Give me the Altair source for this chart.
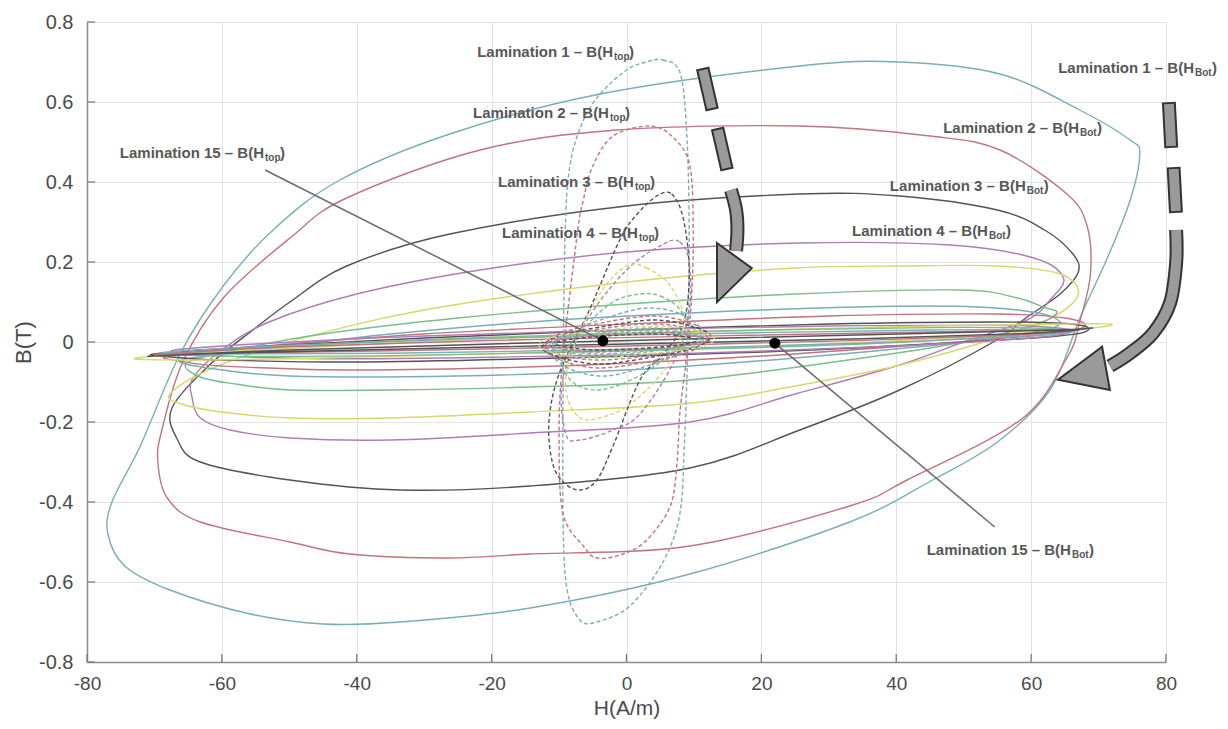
import altair as alt
import pandas as pd

FONT = "Liberation Sans"

X_TICKS = [-80, -60, -40, -20, 0, 20, 40, 60, 80]
Y_TICKS = [-0.8, -0.6, -0.4, -0.2, 0, 0.2, 0.4, 0.6, 0.8]

LAMS = ["Lamination %d" % i for i in range(1, 16)]
LAM_COLORS = ["#79adb8", "#c0747d", "#525257", "#b07cb4", "#d9d66c", "#7bbd8b",
              "#79adb8", "#c0747d", "#525257", "#b07cb4", "#d9d66c", "#7bbd8b",
              "#79adb8", "#c0747d", "#525257"]

# ---------------- B(H_bot) loops (solid) ----------------
BOT_H = {
    1: [-76.9, -76.3, -72.1, -66.2, -59.8, -52.4, -42.5, -26.2, -3.9, 25.7, 40.5, 55.4, 67.2, 74.7, 76.1,
        74.7, 71.3, 67.3, 62.8, 55.0, 45.4, 33.1, 9.4, -14.3, -33.6, -45.0, -55.8, -67.7, -74.4],
    2: [-69.5, -68.9, -65.8, -59.8, -49.9, -41.5, -21.7, -1.4, 25.7, 45.0, 55.4, 65.3, 68.3, 68.8, 67.2,
        65.3, 58.4, 41.6, 33.1, 9.4, -14.3, -26.2, -41.0, -49.9, -63.2, -68.1],
    3: [-67.4, -62.0, -55.4, -49.9, -41.5, -26.2, 0.0, 25.7, 40.5, 55.0, 62.0, 66.2, 67.0, 64.3, 59.4,
        54.4, 40.5, 25.7, 9.4, -14.3, -33.6, -49.9, -63.2, -66.7],
    4: [-64.3, -60.0, -53.0, -40.0, -21.7, 0.0, 25.7, 48.0, 60.4, 64.8, 62.8, 59.4, 50.0, 40.0, 25.0,
        9.4, -14.3, -35.0, -49.9, -58.8, -63.2, -64.4],
    5: [-67.7, -62.0, -50.0, -30.0, 0.0, 25.0, 40.5, 55.0, 64.3, 67.0, 63.0, 55.0, 40.0, 25.0, 9.4,
        -14.3, -35.0, -49.9, -60.0, -66.0],
    6: [-65.2, -58.0, -45.0, -25.0, 0.0, 25.0, 49.5, 58.0, 61.8, 63.8, 60.0, 50.0, 35.0, 9.4, -14.3,
        -35.0, -49.9, -58.0, -63.2],
    7: [-66.0, -55.0, -35.0, -10.0, 20.0, 45.0, 58.0, 64.0, 62.0, 50.0, 25.0, 0.0, -25.0, -50.0, -62.0],
    8: [-68.0, -55.0, -30.0, 0.0, 30.0, 55.0, 65.0, 68.0, 63.0, 45.0, 20.0, -10.0, -40.0, -60.0, -66.0],
    9: [-70.0, -55.0, -30.0, 0.0, 30.0, 55.0, 66.0, 68.5, 64.0, 45.0, 20.0, -10.0, -40.0, -60.0, -67.0],
    10: [-67.0, -55.0, -30.0, 0.0, 30.0, 55.0, 64.0, 66.0, 60.0, 40.0, 10.0, -20.0, -45.0, -60.0, -65.0],
    11: [-72.6, -55.0, -25.0, 10.0, 45.0, 65.0, 72.0, 62.0, 30.0, -10.0, -45.0, -65.0],
    12: [-66.0, -50.0, -20.0, 15.0, 45.0, 60.0, 64.0, 58.0, 35.0, 0.0, -35.0, -58.0, -64.0],
    13: [-68.0, -50.0, -20.0, 15.0, 45.0, 62.0, 66.0, 58.0, 35.0, 0.0, -35.0, -58.0, -65.0],
    14: [-69.0, -50.0, -20.0, 15.0, 45.0, 63.0, 67.0, 58.0, 35.0, 0.0, -35.0, -58.0, -66.0],
    15: [-70.0, -50.0, -20.0, 15.0, 45.0, 64.0, 69.0, 60.0, 35.0, 0.0, -35.0, -60.0, -67.0],
}
BOT_B = {
    1: [-0.48, -0.40, -0.26, -0.03, 0.14, 0.28, 0.405, 0.52, 0.62, 0.69, 0.70, 0.67, 0.58, 0.505, 0.47,
        0.355, 0.21, 0.0625, -0.12, -0.25, -0.345, -0.45, -0.58, -0.665, -0.70, -0.705, -0.68, -0.62, -0.56],
    2: [-0.30, -0.22, -0.05, 0.11, 0.26, 0.36, 0.48, 0.53, 0.54, 0.515, 0.48, 0.37, 0.29, 0.17, 0.05,
        -0.04, -0.195, -0.345, -0.41, -0.51, -0.53, -0.54, -0.53, -0.50, -0.45, -0.39],
    3: [-0.165, -0.06, 0.03, 0.10, 0.19, 0.27, 0.34, 0.37, 0.365, 0.33, 0.28, 0.22, 0.175, 0.12, 0.0625,
        0.0, -0.12, -0.22, -0.315, -0.36, -0.37, -0.345, -0.30, -0.24],
    4: [-0.09, -0.02, 0.05, 0.12, 0.18, 0.225, 0.2475, 0.2425, 0.21, 0.16, 0.105, 0.055, 0.0, -0.06, -0.13,
        -0.20, -0.2275, -0.245, -0.24, -0.22, -0.19, -0.14],
    5: [-0.13, -0.07, 0.0, 0.08, 0.15, 0.185, 0.19, 0.19, 0.17, 0.12, 0.06, 0.01, -0.06, -0.11, -0.153,
        -0.175, -0.19, -0.19, -0.175, -0.155],
    6: [-0.0525, -0.02, 0.02, 0.06, 0.095, 0.12, 0.13, 0.11, 0.0875, 0.0725, 0.04, 0.0, -0.04, -0.095, -0.1125,
        -0.12, -0.12, -0.105, -0.0875],
    7: [-0.045, -0.02, 0.02, 0.055, 0.08, 0.09, 0.08, 0.055, 0.03, 0.0, -0.04, -0.07, -0.085, -0.085, -0.065],
    8: [-0.035, -0.012, 0.02, 0.045, 0.065, 0.07, 0.06, 0.04, 0.02, -0.005, -0.035, -0.06, -0.07, -0.06, -0.048],
    9: [-0.03, -0.012, 0.01, 0.03, 0.045, 0.05, 0.045, 0.03, 0.015, -0.005, -0.025, -0.04, -0.05, -0.045, -0.038],
    10: [-0.02, -0.005, 0.015, 0.03, 0.04, 0.042, 0.035, 0.025, 0.01, -0.01, -0.028, -0.038, -0.042, -0.035, -0.028],
    11: [-0.04, -0.02, 0.005, 0.025, 0.04, 0.045, 0.043, 0.025, -0.005, -0.025, -0.04, -0.045],
    12: [-0.03, -0.01, 0.012, 0.028, 0.036, 0.035, 0.03, 0.018, -0.005, -0.022, -0.034, -0.036, -0.033],
    13: [-0.025, -0.008, 0.01, 0.022, 0.03, 0.03, 0.025, 0.014, -0.003, -0.018, -0.028, -0.03, -0.028],
    14: [-0.03, -0.012, 0.004, 0.016, 0.025, 0.03, 0.03, 0.018, 0.004, -0.01, -0.022, -0.028, -0.03],
    15: [-0.035, -0.02, -0.005, 0.01, 0.022, 0.03, 0.035, 0.022, 0.008, -0.005, -0.018, -0.028, -0.033],
}

# ---------------- B(H_top) loops (dashed) ----------------
TOP_H = {
    1: [3.0, 5.4, 8.0, 9.0, 9.3, 9.1, 8.6, 7.9, 5.4, 0.5, -4.4, -6.9, -8.8, -9.4, -9.4, -9.1, -8.4, -6.5, -3.9, 0.0],
    2: [3.5, 7.0, 9.4, 9.9, 9.6, 8.8, 7.9, 7.5, 6.5, 3.0, -0.5, -4.4, -6.4, -9.4, -10.0, -9.5, -7.3, -6.4, -5.0, -2.0],
    3: [4.5, 6.7, 8.4, 9.3, 8.5, 5.5, 2.0, -2.0, -4.4, -6.9, -9.4, -11.0, -11.5, -10.0, -5.5, -1.0, 1.6],
    4: [5.5, 7.9, 9.3, 9.3, 7.0, 2.0, -2.0, -6.9, -9.0, -9.5, -6.0, 0.0],
    5: [0.0, 3.0, 6.5, 8.5, 6.0, 1.0, -3.0, -6.9, -9.0, -8.0, -4.0],
    6: [2.0, 5.0, 8.0, 9.0, 5.0, 0.0, -4.4, -8.0, -9.5, -6.0, -2.0],
    7: [3.0, 8.0, 11.0, 9.0, 3.0, -3.0, -8.0, -11.0, -9.0, -3.0],
    8: [4.0, 9.0, 12.0, 10.0, 3.0, -4.0, -9.0, -12.0, -10.0, -3.0],
    9: [4.0, 9.5, 12.5, 10.0, 3.0, -4.0, -9.5, -12.5, -10.0, -3.0],
    10: [4.0, 9.0, 12.0, 10.0, 3.0, -4.0, -9.0, -12.0, -10.0, -3.0],
    11: [5.0, 10.0, 13.0, 11.0, 3.0, -5.0, -10.0, -13.0, -11.0, -3.0],
    12: [4.0, 9.0, 11.5, 9.0, 3.0, -4.0, -9.0, -11.5, -9.0, -3.0],
    13: [4.0, 8.5, 11.0, 9.0, 3.0, -4.0, -8.5, -11.0, -9.0, -3.0],
    14: [4.0, 9.0, 12.0, 9.5, 3.0, -4.0, -9.0, -12.0, -9.5, -3.0],
    15: [4.0, 8.0, 10.5, 8.5, 3.0, -4.0, -8.0, -10.5, -8.5, -3.0],
}
TOP_B = {
    1: [0.70, 0.705, 0.67, 0.50, 0.25, 0.0, -0.25, -0.43, -0.55, -0.66, -0.70, -0.695, -0.62, -0.45, -0.10, 0.27, 0.44, 0.55, 0.62, 0.68],
    2: [0.54, 0.51, 0.44, 0.27, 0.10, -0.05, -0.18, -0.30, -0.41, -0.495, -0.53, -0.54, -0.51, -0.43, -0.25, -0.05, 0.27, 0.355, 0.44, 0.515],
    3: [0.365, 0.37, 0.31, 0.18, 0.05, -0.03, -0.095, -0.26, -0.345, -0.37, -0.35, -0.30, -0.20, -0.08, 0.08, 0.255, 0.32],
    4: [0.245, 0.25, 0.20, 0.08, -0.05, -0.18, -0.22, -0.245, -0.23, -0.10, 0.05, 0.18],
    5: [0.19, 0.185, 0.14, 0.05, -0.06, -0.15, -0.185, -0.19, -0.12, -0.02, 0.12],
    6: [0.12, 0.115, 0.08, 0.02, -0.05, -0.10, -0.12, -0.10, -0.04, 0.04, 0.10],
    7: [0.085, 0.07, 0.03, -0.02, -0.06, -0.085, -0.07, -0.03, 0.02, 0.06],
    8: [0.065, 0.05, 0.02, -0.02, -0.05, -0.065, -0.05, -0.02, 0.02, 0.05],
    9: [0.055, 0.04, 0.015, -0.015, -0.04, -0.055, -0.04, -0.015, 0.015, 0.04],
    10: [0.045, 0.035, 0.012, -0.012, -0.035, -0.045, -0.035, -0.012, 0.012, 0.035],
    11: [0.04, 0.03, 0.01, -0.012, -0.03, -0.04, -0.03, -0.01, 0.012, 0.03],
    12: [0.035, 0.025, 0.008, -0.01, -0.025, -0.035, -0.025, -0.008, 0.01, 0.025],
    13: [0.03, 0.022, 0.007, -0.008, -0.022, -0.03, -0.022, -0.007, 0.008, 0.022],
    14: [0.025, 0.018, 0.006, -0.007, -0.018, -0.025, -0.018, -0.006, 0.007, 0.018],
    15: [0.02, 0.015, 0.005, -0.006, -0.015, -0.02, -0.015, -0.005, 0.006, 0.015],
}

# ---------------- annotations ----------------
LABEL_MAIN = ["Lamination 1 \u2013 B(H", "Lamination 2 \u2013 B(H", "Lamination 3 \u2013 B(H",
              "Lamination 4 \u2013 B(H", "Lamination 15 \u2013 B(H",
              "Lamination 1 \u2013 B(H", "Lamination 2 \u2013 B(H", "Lamination 3 \u2013 B(H",
              "Lamination 4 \u2013 B(H", "Lamination 15 \u2013 B(H"]
LABEL_SUB = ["top", "top", "top", "top", "top", "Bot", "Bot", "Bot", "Bot", "Bot"]
LABEL_H = [-2.0, -2.6, 1.1, 1.7, -53.75, 84.15, 67.1, 59.2, 53.6, 65.9]
LABEL_B = [0.725, 0.5725, 0.40, 0.2725, 0.4725, 0.685, 0.535, 0.39, 0.2775, -0.52]

DOT_H = [-3.5, 22.0]
DOT_B = [0.003, -0.003]
LEADER_ID = ["top", "top", "bot", "bot"]
LEADER_H = [-53.6, -3.5, 22.0, 54.6]
LEADER_B = [0.43, 0.003, -0.003, -0.4625]

# thick arrows
L_RECT_H = [12.0, 14.2]
L_RECT_B = [0.6325, 0.4825]
R_RECT_H = [80.6, 81.3]
R_RECT_B = [0.5425, 0.38]
L_BODY_H = [15.5, 16.25, 16.45, 16.25]
L_BODY_B = [0.38, 0.33, 0.28, 0.228]
R_BODY_H = [81.5, 81.5, 80.6, 78.1, 74.7, 71.7]
R_BODY_B = [0.28, 0.1975, 0.0975, 0.0225, -0.0275, -0.06]
L_HEAD_H = [16.0]
L_HEAD_B = [0.216]
R_HEAD_H = [71.1]
R_HEAD_B = [-0.066]

# ---------------- tables ----------------
rows = []
for i in range(1, 16):
    for k, (h, b) in enumerate(zip(BOT_H[i], BOT_B[i])):
        rows.append({"lam": LAMS[i - 1], "H": h, "B": b, "ord": k})
bot_df = pd.DataFrame(rows)
rows = []
for i in range(1, 16):
    for k, (h, b) in enumerate(zip(TOP_H[i], TOP_B[i])):
        rows.append({"lam": LAMS[i - 1], "H": h, "B": b, "ord": k})
top_df = pd.DataFrame(rows)

label_df = pd.DataFrame({"main": LABEL_MAIN, "sub": LABEL_SUB, "H": LABEL_H, "B": LABEL_B})
dot_df = pd.DataFrame({"H": DOT_H, "B": DOT_B})
leader_df = pd.DataFrame({"id": LEADER_ID, "H": LEADER_H, "B": LEADER_B, "ord": [0, 1, 0, 1]})

xs = alt.Scale(domain=[-80, 80], nice=False, zero=False)
ys = alt.Scale(domain=[-0.8, 0.8], nice=False, zero=False)

x_axis = alt.Axis(values=X_TICKS, title="H(A/m)", labelExpr="toString(datum.value)",
                  grid=True, gridColor="#e3e3e3", gridWidth=1, domainColor="#8c8c8c", domainWidth=1.5,
                  ticks=False, tickSize=0, labelFont=FONT, labelFontSize=19, labelColor="#4a4a4a",
                  labelPadding=12, labelOverlap=False, labelFlush=False,
                  titleFont=FONT, titleFontSize=21, titleFontWeight="normal", titleColor="#4a4a4a",
                  titlePadding=4)
y_axis = alt.Axis(values=Y_TICKS, title="B(T)", labelExpr="toString(datum.value)",
                  grid=True, gridColor="#e3e3e3", gridWidth=1, domainColor="#8c8c8c", domainWidth=1.5,
                  ticks=False, tickSize=0, labelFont=FONT, labelFontSize=20, labelColor="#4a4a4a",
                  labelPadding=14, labelOverlap=False, labelFlush=False,
                  titleFont=FONT, titleFontSize=22, titleFontWeight="normal", titleColor="#4a4a4a",
                  titlePadding=3)


def X():
    return alt.X("H:Q", scale=xs, axis=x_axis)


def Y():
    return alt.Y("B:Q", scale=ys, axis=y_axis)


color = alt.Color("lam:N", scale=alt.Scale(domain=LAMS, range=LAM_COLORS), legend=None)

# inward tick marks
ytick_df = pd.DataFrame({"H": [-80] * len(Y_TICKS), "H2": [-78.8] * len(Y_TICKS), "B": Y_TICKS})
xtick_df = pd.DataFrame({"H": X_TICKS, "B": [-0.8] * len(X_TICKS), "B2": [-0.78] * len(X_TICKS)})

ytick_layer = alt.Chart(ytick_df).mark_rule(color="#7a7a7a", strokeWidth=1.3).encode(
    x=X(), x2="H2:Q", y=Y())
xtick_layer = alt.Chart(xtick_df).mark_rule(color="#7a7a7a", strokeWidth=1.3).encode(
    x=X(), y=Y(), y2="B2:Q")

solid = alt.Chart(bot_df).mark_line(interpolate="cardinal-closed", strokeWidth=1.4).encode(
    x=X(), y=Y(), color=color, order="ord:Q")
dashed = alt.Chart(top_df).mark_line(interpolate="cardinal-closed", strokeWidth=1.4,
                                     strokeDash=[4, 2.5]).encode(
    x=X(), y=Y(), color=color, order="ord:Q")

leaders = alt.Chart(leader_df).mark_line(color="#6b6b6b", strokeWidth=1.5).encode(
    x=X(), y=Y(), detail="id:N", order="ord:Q")
dots = alt.Chart(dot_df).mark_circle(size=120, color="black", opacity=1).encode(x=X(), y=Y())

ARROW_FILL = "#9a9a9a"
ARROW_EDGE = "#333333"

l_rect = alt.Chart(pd.DataFrame({"H": L_RECT_H, "B": L_RECT_B})).mark_point(
    shape="M -0.28 -1 L 0.28 -1 L 0.28 1 L -0.28 1 Z", size=1681, angle=347, filled=True,
    fill=ARROW_FILL, stroke=ARROW_EDGE, strokeWidth=2, opacity=1).encode(x=X(), y=Y())
r_rect = alt.Chart(pd.DataFrame({"H": R_RECT_H, "B": R_RECT_B})).mark_point(
    shape="M -0.27 -1 L 0.27 -1 L 0.27 1 L -0.27 1 Z", size=1936, angle=357, filled=True,
    fill=ARROW_FILL, stroke=ARROW_EDGE, strokeWidth=2, opacity=1).encode(x=X(), y=Y())

l_body_df = pd.DataFrame({"H": L_BODY_H, "B": L_BODY_B, "ord": list(range(len(L_BODY_H)))})
r_body_df = pd.DataFrame({"H": R_BODY_H, "B": R_BODY_B, "ord": list(range(len(R_BODY_H)))})


def body(df, width, col):
    return alt.Chart(df).mark_line(interpolate="cardinal", strokeWidth=width, color=col,
                                   strokeCap="butt").encode(x=X(), y=Y(), order="ord:Q")


l_head = alt.Chart(pd.DataFrame({"H": L_HEAD_H, "B": L_HEAD_B})).mark_point(
    shape="M -0.58 -0.42 L 0.58 0.42 L -0.58 1.55 Z", size=3600, filled=True,
    fill=ARROW_FILL, stroke=ARROW_EDGE, strokeWidth=2, opacity=1).encode(x=X(), y=Y())
r_head = alt.Chart(pd.DataFrame({"H": R_HEAD_H, "B": R_HEAD_B})).mark_point(
    shape="M -0.13 -0.72 L 0.13 0.72 L -1.6 0.38 Z", size=3600, filled=True,
    fill=ARROW_FILL, stroke=ARROW_EDGE, strokeWidth=2, opacity=1).encode(x=X(), y=Y())

txt_main = alt.Chart(label_df).mark_text(align="right", baseline="alphabetic", dy=5, font=FONT,
                                          fontWeight="bold", fontSize=15, color="#575757").encode(
    x=X(), y=Y(), text="main:N")
txt_sub = alt.Chart(label_df).mark_text(align="left", baseline="alphabetic", dx=1, dy=8, font=FONT,
                                         fontWeight="bold", fontSize=10, color="#575757").encode(
    x=X(), y=Y(), text="sub:N")
paren_top = alt.Chart(label_df).transform_filter("datum.sub == 'top'").mark_text(
    align="left", baseline="alphabetic", dx=16, dy=5, font=FONT, fontWeight="bold", fontSize=15,
    color="#575757", text=")").encode(x=X(), y=Y())
paren_bot = alt.Chart(label_df).transform_filter("datum.sub == 'Bot'").mark_text(
    align="left", baseline="alphabetic", dx=18, dy=5, font=FONT, fontWeight="bold", fontSize=15,
    color="#575757", text=")").encode(x=X(), y=Y())

chart = alt.layer(
    solid, dashed, ytick_layer, xtick_layer, leaders, dots,
    body(l_body_df, 14, ARROW_EDGE), body(l_body_df, 10, ARROW_FILL),
    body(r_body_df, 14, ARROW_EDGE), body(r_body_df, 10, ARROW_FILL),
    l_rect, r_rect, l_head, r_head,
    txt_main, txt_sub, paren_top, paren_bot,
).properties(
    width=1079, height=640,
    padding={"left": 79, "top": 14, "right": 54, "bottom": 59},
    autosize=alt.AutoSizeParams(type="none"),
    background="white",
).configure_view(strokeWidth=0)

chart.save("out.html", embed_options={"renderer": "svg", "actions": False})
